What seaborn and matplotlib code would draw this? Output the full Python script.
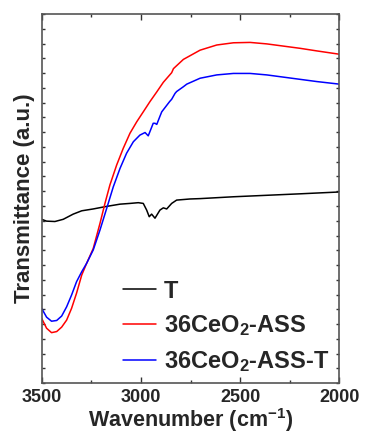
import matplotlib
matplotlib.use("Agg")
import matplotlib.pyplot as plt
import seaborn as sns
import pandas as pd
import numpy as np

# ---- data ----
wn_T = [3500, 3475, 3433, 3391, 3341, 3298, 3240, 3172, 3105, 3055, 3013, 2988, 2971,
        2958, 2946, 2929, 2904, 2887, 2870, 2845, 2820, 2753, 2702, 2534, 2366, 2198, 2000]
tr_T = [44.4, 43.9, 43.8, 44.4, 45.8, 46.7, 47.2, 47.9, 48.5, 48.7, 48.9, 48.7, 46.9,
        45.1, 45.8, 44.7, 46.9, 47.5, 47.2, 48.7, 49.6, 49.9, 50.0, 50.5, 50.9, 51.3, 51.8]

wn_ASS = [3500, 3475, 3450, 3424, 3399, 3374, 3349, 3324, 3298, 3273, 3240, 3206, 3181,
          3156, 3122, 3089, 3055, 3021, 2988, 2954, 2920, 2887, 2845, 2836, 2786, 2702,
          2618, 2534, 2450, 2366, 2282, 2198, 2114, 2000]
tr_ASS = [17.6, 14.9, 13.7, 14.0, 15.2, 17.1, 20.3, 24.4, 29.3, 32.5, 36.5, 43.3, 48.7,
          53.7, 59.1, 63.6, 67.7, 70.8, 73.5, 76.3, 78.9, 81.5, 84.1, 85.2, 87.7, 90.2,
          91.6, 92.2, 92.3, 91.9, 91.3, 90.7, 90.0, 89.1]

wn_ASST = [3500, 3475, 3450, 3424, 3399, 3374, 3349, 3324, 3298, 3273, 3240, 3206, 3172,
           3139, 3105, 3072, 3038, 3005, 2979, 2963, 2946, 2938, 2929, 2920, 2904, 2895,
           2855, 2845, 2828, 2820, 2786, 2769, 2702, 2618, 2534, 2450, 2366, 2282, 2198,
           2114, 2000]
tr_ASST = [20.3, 17.9, 16.8, 17.0, 18.2, 20.7, 23.9, 27.5, 30.2, 32.5, 36.1, 41.5, 47.4,
           53.2, 58.2, 62.3, 65.4, 67.2, 67.9, 67.0, 69.3, 70.4, 70.4, 70.1, 72.3, 73.5,
           76.3, 76.9, 78.5, 79.0, 80.3, 81.0, 82.6, 83.5, 83.9, 83.9, 83.5, 82.9, 82.3,
           81.7, 81.0]

labels = ["T", "36CeO$_\\mathregular{2}$-ASS", "36CeO$_\\mathregular{2}$-ASS-T"]
colors = ["black", "red", "blue"]
xticks = [3500, 3000, 2500, 2000]

sns.set_theme(style="ticks")
plt.rcParams["font.family"] = ["Liberation Sans", "DejaVu Sans"]
plt.rcParams["font.weight"] = "bold"
plt.rcParams["mathtext.default"] = "regular"

frames = []
for lab, wx, ty in [(labels[0], wn_T, tr_T), (labels[1], wn_ASS, tr_ASS), (labels[2], wn_ASST, tr_ASST)]:
    frames.append(pd.DataFrame({"Wavenumber": wx, "Transmittance": ty, "Sample": lab}))
df = pd.concat(frames, ignore_index=True)

fig = plt.figure(figsize=(3.65, 4.37), dpi=100)
ax = fig.add_axes([0.114, 0.123, 0.816, 0.845])
sns.lineplot(data=df, x="Wavenumber", y="Transmittance", hue="Sample",
             palette=dict(zip(labels, colors)), hue_order=labels, ax=ax,
             linewidth=1.1, sort=False, estimator=None)
for ln in ax.get_lines():
    ln.set_solid_joinstyle("round")

ax.set_xlim(3500, 2000)
ax.set_ylim(0, 100)
ax.set_xticks(xticks)
ax.set_xticklabels([str(v) for v in xticks], fontsize=13, fontweight="bold")
ax.set_xticks([3250, 2750, 2250], minor=True)
ax.set_yticks(np.arange(0, 101, 4))
ax.set_yticklabels([])
ax.tick_params(axis="both", which="both", direction="in", top=True, right=True,
               color="#333333", width=1.0)
ax.tick_params(axis="x", which="major", length=4, pad=4)
ax.tick_params(axis="x", which="minor", length=2.5)
ax.tick_params(axis="y", which="major", length=2.5)
for sp in ax.spines.values():
    sp.set_color("#555555")
    sp.set_linewidth(1.2)

ax.set_xlabel("Wavenumber (cm$^{-1}$)", fontsize=15.5, fontweight="bold", labelpad=0)
ax.set_ylabel("Transmittance (a.u.)", fontsize=16, fontweight="bold", labelpad=1)

leg = ax.legend(loc="lower left", bbox_to_anchor=(0.24, 0.0), frameon=False,
                prop={"size": 17, "weight": "bold"}, handlelength=1.4,
                handletextpad=0.35, labelspacing=0.45, borderaxespad=0)
for h in leg.get_lines():
    h.set_linewidth(1.1)

fig.savefig("out.png", dpi=100)
